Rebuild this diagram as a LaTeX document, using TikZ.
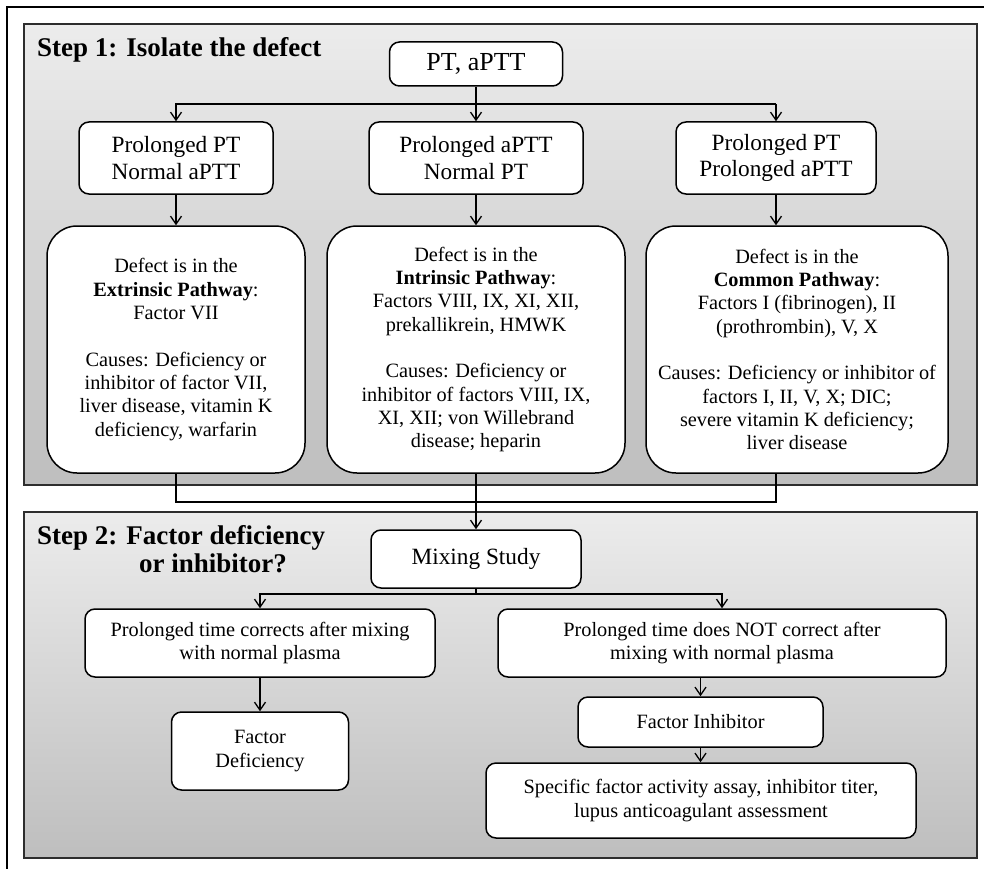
\documentclass[tikz,border=0pt]{standalone}
\usepackage{fontspec}
\setmainfont{Liberation Serif}
\usetikzlibrary{arrows.meta,shadows}
\definecolor{pantop}{RGB}{236,236,236}
\definecolor{panbot}{RGB}{190,190,190}
\definecolor{panline}{RGB}{45,45,45}
\begin{document}
\begin{tikzpicture}[x=1pt,y=-1pt,
  panel/.style={draw=panline, line width=1.6pt, top color=pantop, bottom color=panbot,
    drop shadow={shadow xshift=1.2pt, shadow yshift=-1.2pt, opacity=0.45}},
  box/.style={draw=black, line width=1.5pt, fill=white, rounded corners=10pt,
    align=center, inner sep=0pt},
  bigbox/.style={box, rounded corners=30pt},
  arr/.style={line width=1.3pt, -{Straight Barb[length=8pt,width=11pt,line width=1.3pt]}},
  conn/.style={line width=1.3pt},
  ttl/.style={font=\fontsize{27}{28}\selectfont\bfseries, inner sep=0pt, align=left},
  fA/.style={font=\fontsize{26}{29}\selectfont},
  fB/.style={font=\fontsize{23.3}{26.5}\selectfont},
  fC/.style={font=\fontsize{20.3}{23.3}\selectfont},
]
\useasboundingbox (0,0) rectangle (984,869);
% outer frame
\draw[line width=2pt] (7,869) -- (7,7) -- (984,7);
% panels
\path[panel] (24,24) rectangle (977,485);
\path[panel] (24,512) rectangle (977,858);
% titles
\node[ttl, anchor=base west] (t1) at (37,57) {Step 1: Isolate the defect};
\node[ttl, anchor=north west] (t2) at (37,525) {Step 2: Factor deficiency\\\hspace*{102pt}or inhibitor?};
% step 1
\node[box, fA, minimum width=173pt, minimum height=44pt] (pt) at (476,64) {PT, aPTT};
\node[box, fB, minimum width=194pt, minimum height=72pt] (r2l) at (176,158) {Prolonged PT\\Normal aPTT};
\node[box, fB, minimum width=214pt, minimum height=72pt] (r2m) at (476,158) {Prolonged aPTT\\Normal PT};
\node[box, fB, minimum width=200pt, minimum height=72pt] (r2r) at (776,158) {Prolonged PT\\Prolonged aPTT};
\node[bigbox, fC, minimum width=258pt, minimum height=247pt] (r3l) at (176,349.5)
  {Defect is in the\\\textbf{Extrinsic Pathway}:\\Factor VII\\[23.3pt]Causes: Deficiency or\\inhibitor of factor VII,\\liver disease, vitamin K\\deficiency, warfarin};
\node[bigbox, fC, minimum width=298pt, minimum height=247pt] (r3m) at (476,349.5)
  {Defect is in the\\\textbf{Intrinsic Pathway}:\\Factors VIII, IX, XI, XII,\\prekallikrein, HMWK\\[23.3pt]Causes: Deficiency or\\inhibitor of factors VIII, IX,\\XI, XII; von Willebrand\\disease; heparin};
\node[bigbox, fC, minimum width=302pt, minimum height=247pt] (r3r) at (797,349.5)
  {Defect is in the\\\textbf{Common Pathway}:\\Factors I (fibrinogen), II\\(prothrombin), V, X\\[23.3pt]Causes: Deficiency or inhibitor of\\factors I, II, V, X; DIC;\\severe vitamin K deficiency;\\liver disease};
\coordinate (hub) at (476,104);
\draw[conn] (pt.south) -- (hub);
\draw[arr] (hub) -- (r2m.north);
\draw[arr] (hub) -| (r2l.north);
\draw[conn] (hub) -- (hub -| r2r.north);
\draw[arr] (hub -| r2r.north) -- (r2r.north);
\draw[arr] (r2l.south) -- (r3l.north);
\draw[arr] (r2m.south) -- (r3m.north);
\draw[arr] (r2r.south) -- (r2r.south |- r3r.north);
% step 2
\node[box, fB, minimum width=210pt, minimum height=58pt] (mix) at (476,559) {Mixing Study};
\coordinate (j) at (476,502);
\draw[conn] (r3l.south) |- (j);
\draw[conn] (r2r.south |- r3r.south) |- (j);
\draw[arr] (r3m.south) -- (mix.north);
\node[box, fC, minimum width=350pt, minimum height=68pt] (cl) at (260,643) {Prolonged time corrects after mixing\\with normal plasma};
\node[box, fC, minimum width=448pt, minimum height=68pt] (cr) at (722,643) {Prolonged time does NOT correct after\\mixing with normal plasma};
\node[box, fC, minimum width=177pt, minimum height=78pt] (fd) at (260,751) {Factor\\Deficiency};
\node[box, fC, minimum width=245pt, minimum height=50pt] (fi) at (700.5,722) {Factor Inhibitor};
\node[box, fC, minimum width=430pt, minimum height=75pt] (sp) at (701,800.5) {Specific factor activity assay, inhibitor titer,\\lupus anticoagulant assessment};
\coordinate (k) at (476,594);
\draw[conn] (mix.south) -- (k);
\draw[arr] (k) -| (cl.north);
\draw[arr] (k) -| (cr.north);
\draw[arr] (cl.south) -- (fd.north);
\draw[arr] (fi.north |- cr.south) -- (fi.north);
\draw[arr] (fi.south) -- (sp.north -| fi.south);
\end{tikzpicture}
\end{document}
